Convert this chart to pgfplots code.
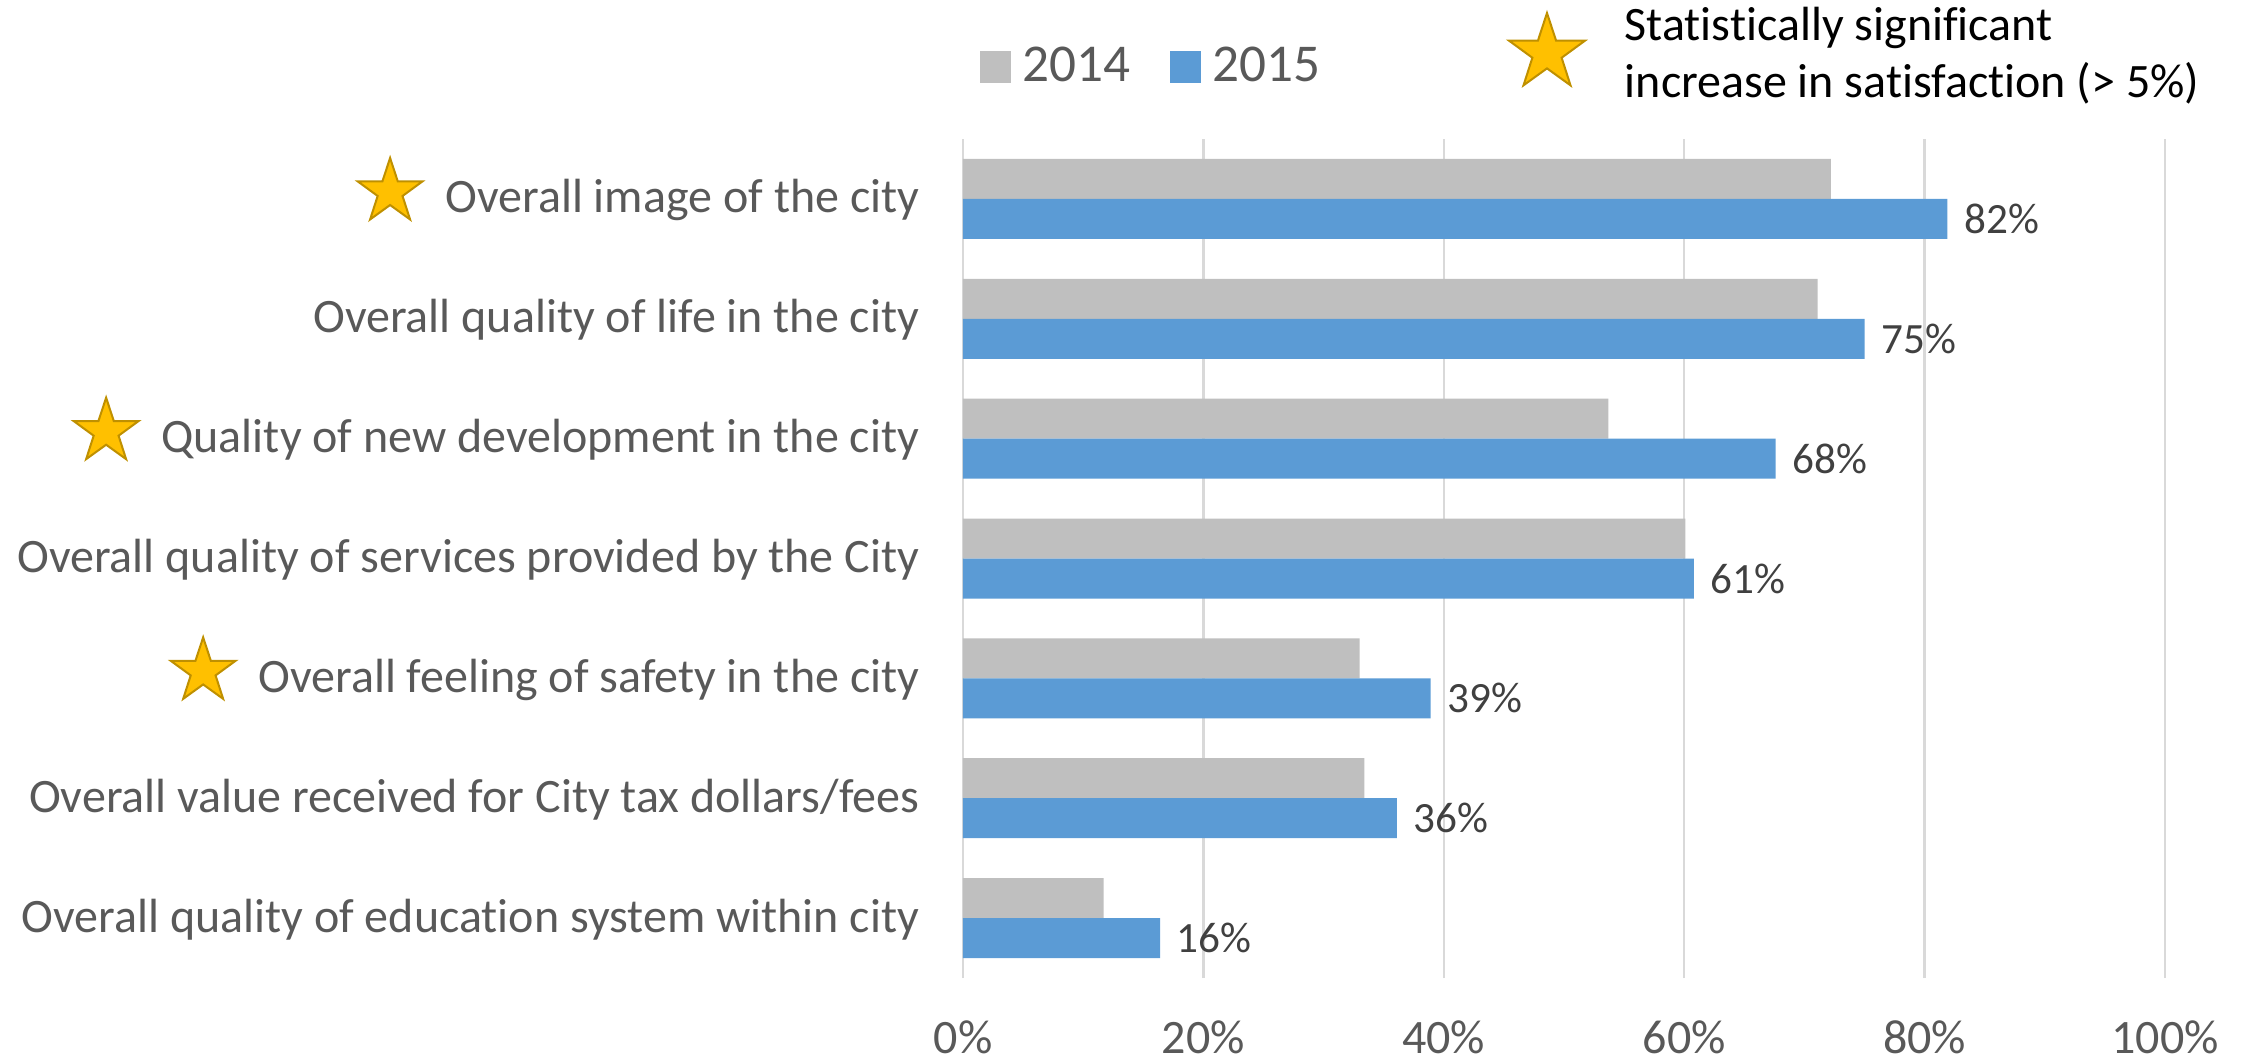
\documentclass[border=0pt]{standalone}
\usepackage{fontspec}
\setmainfont[Ligatures={NoCommon}]{Carlito}
\usepackage{pgfplots}
\pgfplotsset{compat=1.18}
\usetikzlibrary{shapes.geometric}

\definecolor{c2014}{HTML}{BFBFBF}
\definecolor{c2015}{HTML}{5B9BD5}
\definecolor{gridc}{HTML}{D9D9D9}
\definecolor{labc}{HTML}{595959}
\definecolor{datc}{HTML}{404040}
\definecolor{starfill}{HTML}{FFC000}
\definecolor{stardraw}{HTML}{BF9000}

\tikzset{goldstar/.style={star, star points=5, star point ratio=2.6, inner sep=0pt,
  text height=0pt, text depth=0pt, xshift=0pt, yshift=0pt, anchor=center,
  fill=starfill, draw=stardraw, line width=0.5pt}}
% star in front of a category label, smashed so the label keeps its height
\newcommand{\goldstar}{\smash{\tikz[baseline={([yshift=-5.25pt]s.center)}]\node[goldstar, minimum size=17pt] (s) {};}\hspace{5.5pt}}

\begin{document}
\begin{tikzpicture}
\begin{axis}[
    scale only axis,
    width=300.5pt, height=209.75pt,
    xbar, bar width=10pt,
    xmin=0, xmax=100, ymin=0.5, ymax=7.5,
    xtick={0,20,...,100},
    xticklabels={0\%,20\%,40\%,60\%,80\%,100\%},
    ytick={1,...,7},
    yticklabels={
        {Overall quality of education system within city},
        {Overall value received for City tax dollars/fees},
        {\goldstar Overall feeling of safety in the city},
        {Overall quality of services provided by the City},
        {\goldstar Quality of new development in the city},
        {Overall quality of life in the city},
        {\goldstar Overall image of the city}},
    xmajorgrids,
    major grid style={gridc, line width=0.6pt},
    axis line style={draw=none},
    major tick length=0pt,
    tick label style={font=\fontsize{12}{14}\selectfont, text=labc},
    xticklabel style={yshift=-7.2pt},
    yticklabel style={inner sep=0pt, xshift=-10.75pt, text height=9.5pt, text depth=2.5pt},
    legend style={draw=none, fill=none, inner sep=0pt,
        at={(axis description cs:0.0133,1.0858)}, anchor=west,
        legend columns=2, font=\fontsize{13.3}{15}\selectfont, text=labc,
        nodes={inner sep=0pt},
        /tikz/every odd column/.append style={column sep=3pt},
        /tikz/every even column/.append style={column sep=9.75pt}},
    legend image code/.code={\fill[#1] (0pt,-3.9pt) rectangle (7.75pt,3.9pt);},
]
\addplot[fill=c2014, draw=none, bar shift=5pt] coordinates {
    (11.7,1) (33.4,2) (33.0,3) (60.1,4) (53.7,5) (71.1,6) (72.2,7)
};
\addlegendentry{2014}
\addplot[fill=c2015, draw=none, bar shift=-5pt,
    point meta=x,
    nodes near coords={\pgfmathprintnumber[fixed,precision=0,assume math mode=true]{\pgfplotspointmeta}\%},
    every node near coord/.append style={font=\fontsize{10.8}{13}\selectfont,
        text=datc, inner sep=0pt, anchor=west, xshift=4pt}] coordinates {
    (16.4,1) (36.1,2) (38.9,3) (60.8,4) (67.6,5) (75.0,6) (81.9,7)
};
\addlegendentry{2015}
\end{axis}

% note for the stars
\node[goldstar, minimum size=20pt] at (146pt,231.25pt) {};
\node[anchor=base west, inner sep=0pt, font=\fontsize{12}{14}\selectfont] at (165.25pt,234.25pt) {Statistically significant};
\node[anchor=base west, inner sep=0pt, font=\fontsize{12}{14}\selectfont] at (165.25pt,220pt) {increase in satisfaction (> 5\%)};

\pgfresetboundingbox
\path (-240.75pt,-20.75pt) rectangle (321pt,244.5pt);
\end{tikzpicture}
\end{document}
